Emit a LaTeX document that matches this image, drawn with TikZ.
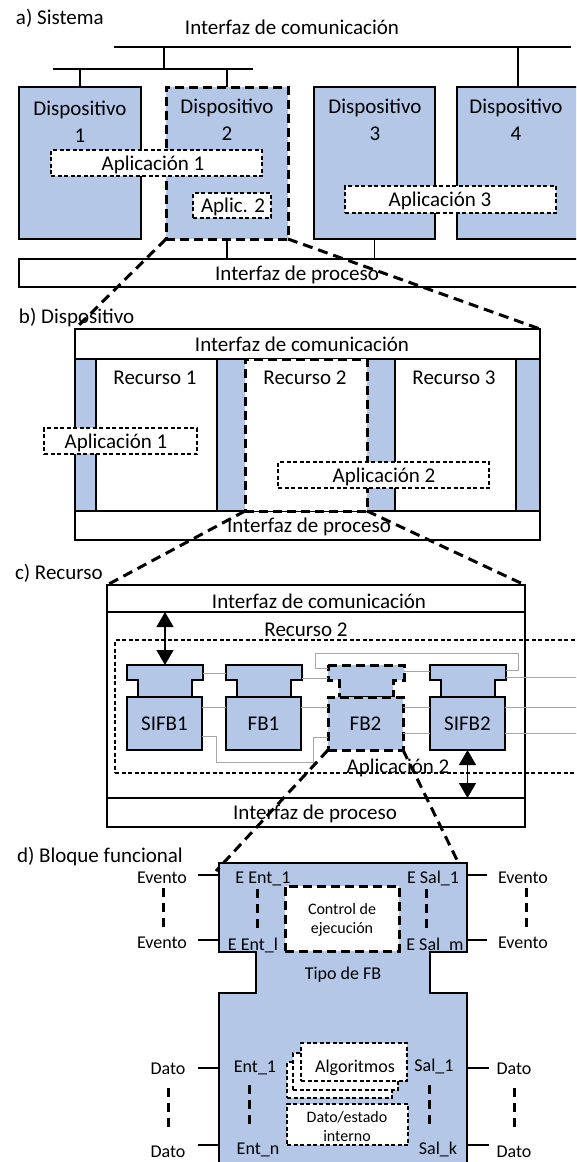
\documentclass[tikz,border=0pt]{standalone}
\usepackage{fontspec}
\setmainfont{Carlito}
\usetikzlibrary{fit,arrows.meta}
\definecolor{fbblue}{HTML}{B4C7E7}
\definecolor{wiregray}{HTML}{A6A6A6}
\newcommand\fsA{\fontsize{21}{27}\selectfont}
\newcommand\fsB{\fontsize{18}{22}\selectfont}
\newcommand\fsC{\fontsize{16}{20}\selectfont}
\tikzset{
  x=1pt, y=-1pt,
  every node/.style={font=\fsA, inner sep=0pt, outer sep=0pt},
  blk/.style={draw=black, line width=1.4pt, fill=fbblue},
  wbox/.style={draw=black, line width=1.4pt, fill=white},
  zbox/.style={draw=black, line width=3pt, dash pattern=on 9pt off 5pt},
  appbox/.style={draw=black, line width=1.2pt, dash pattern=on 4pt off 2.5pt, fill=white},
  zline/.style={draw=black, line width=3pt, dash pattern=on 10pt off 6pt},
  bus/.style={draw=black, line width=1.4pt},
  wire/.style={draw=wiregray, line width=1pt},
  vdots/.style={draw=black, line width=3pt, dash pattern=on 9pt off 6pt},
  port/.style={draw=black, line width=1.2pt},
  dbl/.style={draw=black, line width=1.4pt, {Triangle[width=17pt,length=15pt]}-{Triangle[width=17pt,length=15pt]}},
  lbl/.style={anchor=base},
  pics/fbunit/.style 2 args={code={
    \draw[#2] (0,0) -- (76,0) -- (76,15) -- (65,15) -- (65,32) -- (11,32) -- (11,15) -- (0,15) -- cycle;
    \coordinate (-top) at (38,0);
    \node[#2, minimum width=75pt, minimum height=53pt, anchor=north west] (-data) at (0,32) {};
    \node (-name) at (-data.center) {#1};
  }},
}
\begin{document}
\begin{tikzpicture}
\useasboundingbox (0,0) rectangle (576,1162);
\clip (0,0) rectangle (576,1162);

% ---------------- a) Sistema ----------------
\node[anchor=base west] (ta) at (16,24) {a) Sistema};
\node[lbl] (tacom) at (292,34) {Interfaz de comunicación};
\coordinate (busA1) at (114,47); \coordinate (busA2) at (571,47);
\coordinate (busB1) at (53,69);  \coordinate (busB2) at (253,69);
\coordinate (jA) at (164,47);

\node[blk, fit={(19,87)(141,239)}] (d1) {};
\node[zbox, fill=fbblue, fit={(166,87)(288,239)}] (d2) {};
\node[blk, fit={(314,87)(435,239)}] (d3) {};
\node[blk, fit={(457,87)(579,239)}] (d4) {};

\draw[bus] (busA1) -- (busA2);
\draw[bus] (busB1) -- (busB2);
\draw[bus] (jA) -- (jA |- busB1);
\draw[bus] (d1.north) -- (d1.north |- busB1);
\draw[bus] (d2.north) -- (d2.north |- busB1);
\draw[bus] (d4.north) -- (d4.north |- busA1);

\node[lbl] (d1t) at (80,115) {Dispositivo};  \node[lbl] (d1n) at (80,142) {1};
\node[lbl] (d2t) at (227,113) {Dispositivo}; \node[lbl] (d2n) at (227,140) {2};
\node[lbl] (d3t) at (375,113) {Dispositivo}; \node[lbl] (d3n) at (375,140) {3};
\node[lbl] (d4t) at (516,113) {Dispositivo}; \node[lbl] (d4n) at (516,140) {4};

\node[appbox, fit={(51,150)(262,176)}] (a1) {};
\node[lbl] (a1t) at (153,170) {Aplicación 1};
\node[appbox, fit={(193,193)(271,218)}] (a2) {};
\node[lbl] (a2t) at (233,212) {Aplic. 2};
\node[appbox, fit={(345,186)(556,213)}] (a3) {};
\node[lbl] (a3t) at (440,206) {Aplicación 3};

\node[wbox, fit={(19,259)(580,287)}] (pa) {};
\node[lbl] (pat) at (297,280) {Interfaz de proceso};
\draw[bus] (d2.south) -- (d2.south |- pa.north);
\draw[bus] (d3.south) -- (d3.south |- pa.north);

% ---------------- b) Dispositivo ----------------
\node[anchor=base west] (tb) at (19,323) {b) Dispositivo};
\node[blk, fit={(75,359)(540,511)}] (bmid) {};
\node[wbox, fit={(75,329)(540,359)}] (bcom) {};
\node[lbl] (bcomt) at (302,351) {Interfaz de comunicación};
\node[wbox, fit={(75,511)(540,540)}] (bproc) {};
\node[lbl] (bproct) at (309,532) {Interfaz de proceso};
\node[wbox, fit={(96,359)(217,511)}] (r1) {};
\node[wbox, fit={(395,359)(516,511)}] (r3) {};
\node[zbox, fill=white, fit={(245,359)(367,511)}] (r2) {};
\node[lbl] (r1t) at (155,384) {Recurso 1};
\node[lbl] (r2t) at (305,384) {Recurso 2};
\node[lbl] (r3t) at (454,384) {Recurso 3};
\node[appbox, fit={(44,428)(197,454)}] (ap1b) {};
\node[lbl] (ap1bt) at (116,448) {Aplicación 1};
\node[appbox, fit={(278,462)(489,488)}] (ap2b) {};
\node[lbl] (ap2bt) at (384,482) {Aplicación 2};

% ---------------- c) Recurso ----------------
\node[anchor=base west] (tc) at (15,579) {c) Recurso};
\node[wbox, fit={(107,585)(525,827)}] (co) {};
\node[wbox, fit={(107,585)(525,612)}] (ccom) {};
\node[lbl] (ccomt) at (319,608) {Interfaz de comunicación};
\node[wbox, fit={(107,798)(525,827)}] (cproc) {};
\node[lbl] (cproct) at (315,819) {Interfaz de proceso};
\node[draw=black, line width=1.2pt, dash pattern=on 4pt off 2.5pt, fit={(115,640)(600,773)}] (rg) {};
\node[lbl] (rgt) at (306,636) {Recurso 2};

\pic (sA) at (127,665) {fbunit={SIFB1}{blk}};
\pic (fA) at (226,665) {fbunit={FB1}{blk}};
\pic (fB) at (328,665) {fbunit={FB2}{zbox,fill=fbblue}};
\pic (sB) at (430,665) {fbunit={SIFB2}{blk}};

% wiring between the blocks
\coordinate (edgeR) at (580,0);
\coordinate (lp1) at (315,653); \coordinate (lp2) at (518,653);
\coordinate (jog1) at (216,762); \coordinate (jog2) at (313,762);
\draw[wire] (203,673) -- (226,673);
\draw[wire] (302,678) -- (328,678);
\draw[wire] (328,668) -| (lp1) -- (lp2) |- (506,670);
\draw[wire] (404,671) -- (430,671);
\draw[wire] (506,677) -- (edgeR |- 506,677);
\draw[wire] (sA-data.east |- 0,707) -- (fA-data.west |- 0,707);
\draw[wire] (fA-data.east |- 0,707) -- (fB-data.west |- 0,707);
\draw[wire] (fB-data.east |- 0,707) -- (sB-data.west |- 0,707);
\draw[wire] (sB-data.east |- 0,707) -- (edgeR |- 0,707);
\draw[wire] (fB-data.east |- 0,733) -- (sB-data.west |- 0,733);
\draw[wire] (sB-data.east |- 0,733) -- (edgeR |- 0,733);
\draw[wire] (sA-data.east |- 0,736) -| (jog1) -- (jog2) |- (fB-data.west |- 0,737);

\node[lbl] (rga) at (398,773) {Aplicación 2};
\draw[dbl] (sA-top |- ccom.south) -- (sA-top);
\draw[dbl] (sB-data.south) -- (sB-data.south |- cproc.north);

% ---------------- d) Bloque funcional ----------------
\node[anchor=base west] (td) at (17,862) {d) Bloque funcional};
\coordinate (fNW) at (219,863); \coordinate (fNE) at (467,863);
\draw[blk] (fNW) -- (fNE) -- (467,952) -- (430,952) -- (430,993) -- (467,993)
  -- (467,1180) -- (219,1180) -- (219,993) -- (256,993) -- (256,952) -- (219,952) -- cycle;

\begin{scope}[every node/.style={font=\fsB, inner sep=0pt, outer sep=0pt, anchor=base}]
  \node (evl1) at (162,883) {Evento};
  \node (evl2) at (162,948) {Evento};
  \node (evr1) at (523,883) {Evento};
  \node (evr2) at (523,948) {Evento};
  \node (ei1) at (263,883) {E Ent\_1};
  \node (eil) at (253,950) {E Ent\_l};
  \node (eo1) at (433,883) {E Sal\_1};
  \node (eom) at (435,950) {E Sal\_m};
  \node (tipo) at (343,979) {Tipo de FB};
  \node (dl1) at (168,1074) {Dato};
  \node (dl2) at (168,1157) {Dato};
  \node (dr1) at (514,1074) {Dato};
  \node (dr2) at (514,1157) {Dato};
  \node (di1) at (255,1072) {Ent\_1};
  \node (din) at (258,1154) {Ent\_n};
  \node (do1) at (434,1071) {Sal\_1};
  \node (dok) at (438,1154) {Sal\_k};
\end{scope}

% port stubs
\coordinate (pL1) at (219,875); \coordinate (qL1) at (198,875);
\coordinate (pL2) at (219,940); \coordinate (qL2) at (198,940);
\coordinate (pR1) at (467,875); \coordinate (qR1) at (487,875);
\coordinate (pR2) at (467,940); \coordinate (qR2) at (487,940);
\coordinate (pL3) at (219,1068); \coordinate (qL3) at (198,1068);
\coordinate (pL4) at (219,1145); \coordinate (qL4) at (198,1145);
\coordinate (pR3) at (467,1068); \coordinate (qR3) at (489,1068);
\coordinate (pR4) at (467,1145); \coordinate (qR4) at (489,1145);
\foreach \p/\q in {pL1/qL1,pL2/qL2,pR1/qR1,pR2/qR2,pL3/qL3,pL4/qL4,pR3/qR3,pR4/qR4}
  \draw[port] (\p) -- (\q);

% continuation marks
\draw[vdots] (163,888) -- (163,929);
\draw[vdots] (526,888) -- (526,929);
\draw[vdots] (257,889) -- (257,931);
\draw[vdots] (426,889) -- (426,931);
\draw[vdots] (168,1088) -- (168,1128);
\draw[vdots] (514,1088) -- (514,1128);
\draw[vdots] (249,1085) -- (249,1127);
\draw[vdots] (429,1085) -- (429,1125);

\node[zbox, fill=white, fit={(285,886)(399,951)}] (ctl) {};
\node[lbl, font=\fsC] (ctl1) at (342,914) {Control de};
\node[lbl, font=\fsC] (ctl2) at (342,933) {ejecución};
\node[appbox, fit={(287,1062)(392,1098)}] (alg3) {};
\node[appbox, fit={(293,1053)(398,1090)}] (alg2) {};
\node[appbox, fit={(301,1043)(407,1081)}] (alg1) {};
\node[lbl, font=\fsB] (alg1t) at (355,1072) {Algoritmos};
\node[appbox, fit={(287,1104)(408,1145)}] (dst) {};
\node[lbl, font=\fsC] (dst1) at (347,1122) {Dato/estado};
\node[lbl, font=\fsC] (dst2) at (347,1141) {interno};

% ---------------- zoom guides ----------------
\coordinate (zL) at (216,871); \coordinate (zR) at (458,862);
\draw[zline] (d2.south west) -- (bcom.north west);
\draw[zline] (d2.south east) -- (bcom.north east);
\draw[zline] (r2.south west) -- (ccom.north west);
\draw[zline] (r2.south east) -- (ccom.north east);
\draw[zline] (fB-data.south west) -- (zL);
\draw[zline] (fB-data.south east) -- (zR);
\end{tikzpicture}
\end{document}
